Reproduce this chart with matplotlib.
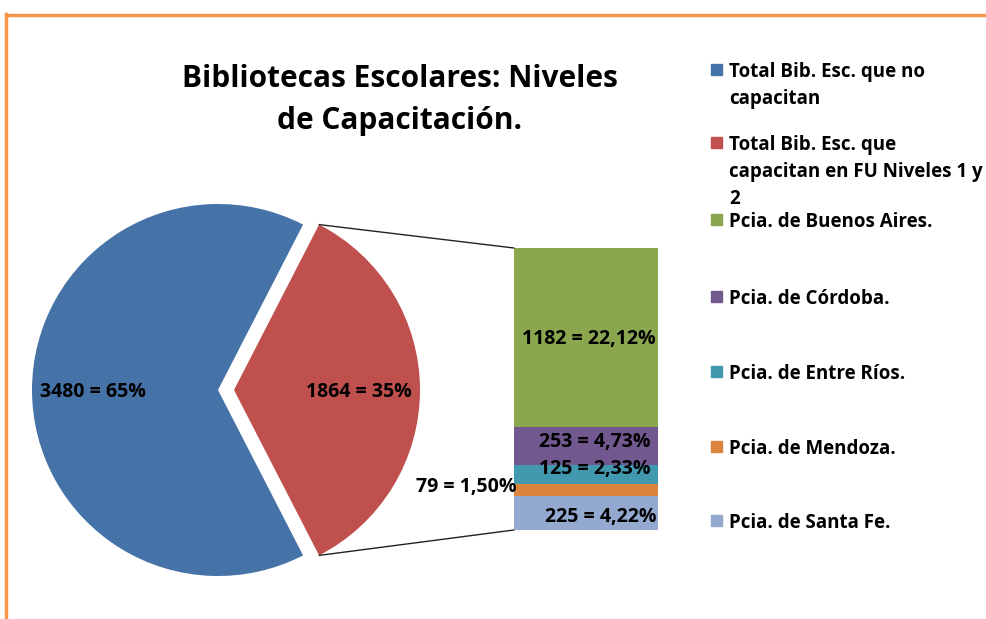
import matplotlib
matplotlib.use("Agg")
import matplotlib.pyplot as plt
from matplotlib.patches import ConnectionPatch, Rectangle
from matplotlib.transforms import ScaledTranslation
import numpy as np

# datos del grafico
pie_labels = ["Total Bib. Esc. que no\ncapacitan",
              "Total Bib. Esc. que\ncapacitan en FU Niveles 1 y\n2"]
pie_values = [3480, 1864]
pie_pcts = ["65%", "35%"]

prov_labels = ["Pcia. de Buenos Aires.", "Pcia. de Córdoba.", "Pcia. de Entre Ríos.",
               "Pcia. de Mendoza.", "Pcia. de Santa Fe."]
prov_values = [1182, 253, 125, 79, 225]
prov_pcts = ["22,12%", "4,73%", "2,33%", "1,50%", "4,22%"]

pie_colors = ["#4572A7", "#C0504D"]
prov_colors = ["#8AA64F", "#71588F", "#4198AF", "#DB843D", "#93A9CF"]

plt.rcParams['font.family'] = ['Open Sans', 'DejaVu Sans']

W, H = 987, 619
fig = plt.figure(figsize=(W / 100, H / 100), dpi=100)
ax = fig.add_axes([0, 0, 1, 1])

# pie principal, la porcion roja separada
total = sum(pie_values)
start = 180.0 * pie_values[1] / total
wedges, _ = ax.pie(pie_values, colors=pie_colors, startangle=start,
                   center=(218, 229), radius=186, explode=[0, 16])
ax.set_xlim(0, W)
ax.set_ylim(0, H)
ax.set_aspect('auto')
ax.axis('off')

lab_size = 14
for w, v, p in zip(wedges, pie_values, pie_pcts):
    mid = np.deg2rad((w.theta1 + w.theta2) / 2)
    cx, cy = w.center
    ax.text(cx + 0.67 * w.r * np.cos(mid), cy + 0.67 * w.r * np.sin(mid) - 2,
            f"{v} = {p}", ha='center', va='center', fontsize=lab_size, fontweight='bold')

# barra apilada con las provincias
bx = fig.add_axes([514 / W, (H - 530) / H, 144 / W, 282 / H])
order = list(range(len(prov_values)))[::-1]   # de abajo hacia arriba
bottom = 0
centers = {}
for i in order:
    bx.bar(0, prov_values[i], bottom=bottom, width=1, color=prov_colors[i])
    centers[i] = bottom + prov_values[i] / 2
    bottom += prov_values[i]
bx.set_xlim(-0.5, 0.5)
bx.set_ylim(0, sum(prov_values))
bx.axis('off')

# desplazamiento de cada etiqueta, en pixeles
lab_dx = [0, 6, 6, 0, 12]
lab_dy = [-2, 4, 6, 3, -4]
for i, (v, p) in enumerate(zip(prov_values, prov_pcts)):
    txt = f"{v} = {p}"
    t = bx.text(0.02, centers[i], txt, ha='center', va='center',
                fontsize=lab_size, fontweight='bold', clip_on=False)
    if v < 100:
        t.set_x(-0.48)
        t.set_ha('right')
    t.set_transform(bx.transData + ScaledTranslation(
        lab_dx[i] / 100, lab_dy[i] / 100, fig.dpi_scale_trans))

# lineas de conexion
red = wedges[1]
for ang, yb in [(red.theta2, 1), (red.theta1, 0)]:
    a = np.deg2rad(ang)
    p = (red.center[0] + red.r * np.cos(a), red.center[1] + red.r * np.sin(a))
    con = ConnectionPatch(xyA=p, coordsA=ax.transData, xyB=(0, yb), coordsB=bx.transAxes,
                          color='#222222', lw=1)
    fig.add_artist(con)

# titulo
fig.text(400 / W, 1 - 100 / H, "Bibliotecas Escolares: Niveles\nde Capacitación.",
         ha='center', va='center', fontsize=21.5, fontweight='bold', linespacing=1.5)

# leyenda
leg_labels = pie_labels + prov_labels
leg_colors = pie_colors + prov_colors
leg_y = [70, 143, 220, 297, 372, 447, 521]
for lab, col, y in zip(leg_labels, leg_colors, leg_y):
    fig.add_artist(Rectangle((711 / W, 1 - (y + 5) / H), 11 / W, 11 / H,
                             transform=fig.transFigure, color=col))
    fig.text(729 / W, 1 - (y - 8) / H, lab, ha='left', va='top',
             fontsize=13.5, fontweight='bold', linespacing=1.45)

# marco naranja
fig.add_artist(plt.Line2D([6 / W, 6 / W], [0, 1 - 14 / H], transform=fig.transFigure,
                          color='#F79646', lw=2.5, solid_capstyle='projecting'))
fig.add_artist(plt.Line2D([6 / W, 1], [1 - 15 / H, 1 - 15 / H], transform=fig.transFigure,
                          color='#F79646', lw=2.5, solid_capstyle='projecting'))

fig.savefig("out.png", dpi=100)
